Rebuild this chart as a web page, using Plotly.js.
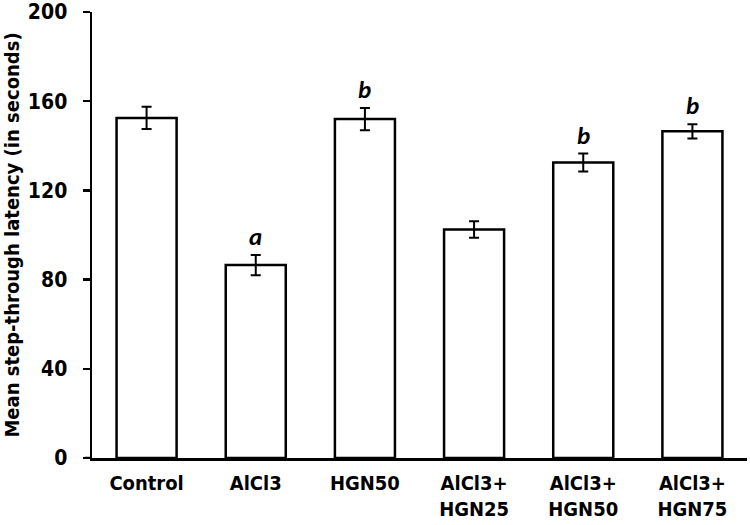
<!DOCTYPE html>
<html>
<head>
<meta charset="utf-8">
<script src="https://cdn.plot.ly/plotly-3.0.1.min.js"></script>
<style>
  body { margin: 0; background: #fff; }
  #chart { width: 750px; height: 525px; }
</style>
</head>
<body>
<div id="chart"></div>
<script>
const groups = ['Control', 'AlCl3', 'HGN50', 'AlCl3+<br>HGN25', 'AlCl3+<br>HGN50', 'AlCl3+<br>HGN75']
const latency = [152.5, 86.5, 152, 102.5, 132.5, 146.5]
const sem = [5, 4.5, 5, 3.7, 4, 3.2]
const letters = ['', 'a', 'b', '', 'b', 'b']

const font = 'DejaVu Sans Condensed, Liberation Sans Narrow, Arial Narrow, sans-serif'

const data = [{
    type: 'bar',
    x: groups,
    y: latency,
    width: 0.55,
    marker: { color: '#ffffff', line: { color: '#000000', width: 2.5 } },
    error_y: { type: 'data', array: sem, visible: true, color: '#000000', thickness: 2, width: 5 },
    hoverinfo: 'skip'
}]

const notes = []
for (let i = 0; i < groups.length; i++) {
    if (!letters[i]) continue
    notes.push({
        x: groups[i],
        y: latency[i] + sem[i],
        text: '<b><i>' + letters[i] + '</i></b>',
        showarrow: false,
        yanchor: 'bottom',
        yshift: 1,
        font: { family: 'Carlito, Liberation Sans, Arial, sans-serif', size: 25, color: '#000' }
    })
}

const layout = {
    width: 750,
    height: 525,
    margin: { l: 92, r: 3, t: 12, b: 67 },
    paper_bgcolor: '#fff',
    plot_bgcolor: '#fff',
    showlegend: false,
    font: { family: font, color: '#000' },
    xaxis: {
        type: 'category',
        range: [-0.5, 5.5],
        showline: true,
        linecolor: '#000',
        linewidth: 2.5,
        ticks: '',
        showgrid: false,
        zeroline: false,
        tickfont: { family: font, size: 20, color: '#000', weight: 'bold' },
        ticklabelstandoff: 5
    },
    yaxis: {
        range: [0, 200],
        tickvals: [0, 40, 80, 120, 160, 200],
        showline: true,
        linecolor: '#000',
        linewidth: 2.5,
        ticks: 'outside',
        ticklen: 7,
        tickwidth: 2.5,
        tickcolor: '#000',
        showgrid: false,
        zeroline: false,
        tickfont: { family: font, size: 21, color: '#000', weight: 'bold' },
        ticklabelstandoff: 11,
        title: {
            text: 'Mean step-through latency (in seconds)',
            font: { family: font, size: 20, color: '#000', weight: 'bold' },
            standoff: 6
        }
    },
    yaxis2: {
        overlaying: 'y',
        range: [0, 200],
        tickvals: [0, 40, 80, 120, 160, 200],
        ticks: 'inside',
        ticklen: 8,
        tickwidth: 2.5,
        tickcolor: '#000',
        showticklabels: false,
        showgrid: false,
        zeroline: false
    },
    annotations: notes,
    shapes: [{
        type: 'line', xref: 'paper', yref: 'y',
        x0: -0.011, x1: 0, y0: 0, y1: 0,
        line: { color: '#000', width: 2.5 }
    }]
}

Plotly.newPlot('chart', data, layout, { displayModeBar: false, staticPlot: true })
</script>
</body>
</html>
